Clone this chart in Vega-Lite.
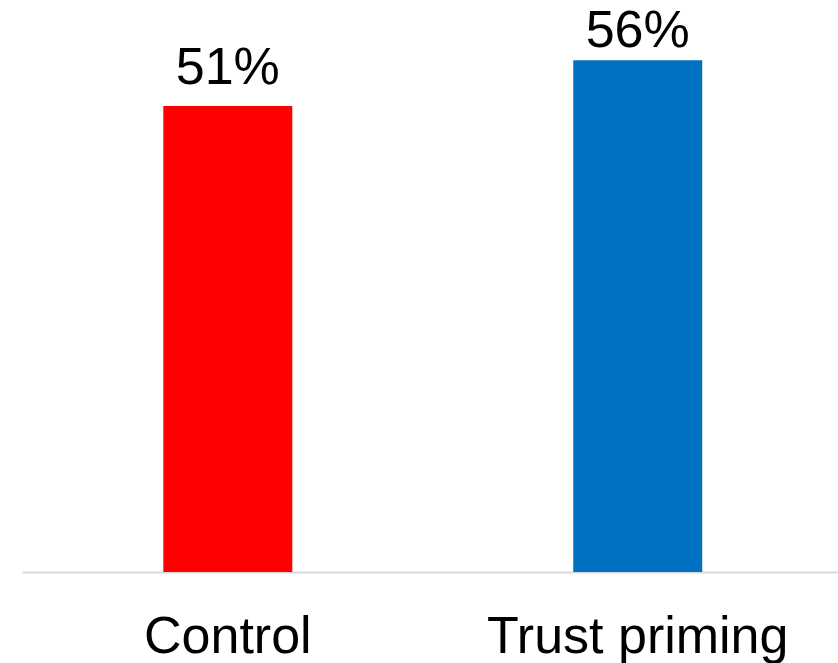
{
  "$schema": "https://vega.github.io/schema/vega-lite/v6.json",
  "autosize": "none",
  "padding": {"left": 22, "top": 0, "right": 0, "bottom": 91},
  "width": 816,
  "height": 572,
  "background": "white",
  "config": {"view": {"stroke": null}, "font": "Liberation Sans"},
  "data": {"values": [
    {"group": "Control", "value": 0.51, "label": "51%"},
    {"group": "Trust priming", "value": 0.56, "label": "56%"}
  ]},
  "encoding": {
    "x": {"field": "group", "type": "nominal", "sort": null,
      "scale": {"paddingInner": 0.6854, "paddingOuter": 0.338, "align": 0.51},
      "axis": {"title": null, "labelAngle": 0, "labelFontSize": 52, "labelColor": "black", "labelFont": "Liberation Sans",
        "labelLimit": 0, "ticks": false, "labelPadding": 39, "domainColor": "#d9d9d9", "domainWidth": 2, "labelBaseline": "top"}}
  },
  "layer": [
    {"mark": {"type": "bar"},
     "encoding": {
       "y": {"field": "value", "type": "quantitative", "scale": {"domain": [0, 0.626], "nice": false, "zero": true}, "axis": null},
       "color": {"field": "group", "type": "nominal", "scale": {"domain": ["Control", "Trust priming"], "range": ["#FF0000", "#0070C0"]}, "legend": null}}},
    {"mark": {"type": "text", "baseline": "alphabetic", "fontSize": 52, "color": "black", "font": "Liberation Sans"},
     "encoding": {
       "y": {"field": "value", "type": "quantitative", "scale": {"domain": [-0.1495, 0.6235], "nice": false, "zero": false}, "axis": null},
       "text": {"field": "label"}}}
  ],
  "resolve": {"scale": {"y": "independent"}}
}
